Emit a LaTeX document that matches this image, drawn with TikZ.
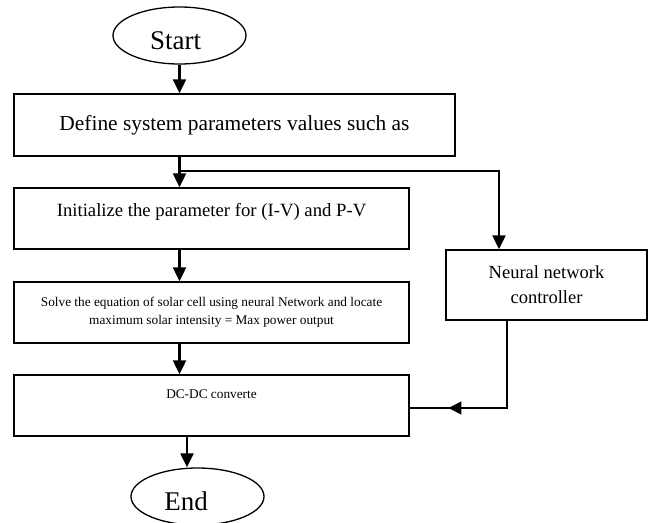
\documentclass[tikz,border=0pt]{standalone}
\usepackage{fontspec}
\setmainfont{Liberation Serif}
\usepackage{tikz}
\usetikzlibrary{shapes.geometric, arrows.meta, positioning, decorations.markings}

\begin{document}
\begin{tikzpicture}[
  x=1pt, y=-1pt,
  terminal/.style={ellipse, draw=black, line width=1.3pt, minimum width=133pt, minimum height=57pt, inner sep=0pt, font=\fontsize{27}{30}\selectfont, text height=27pt, text depth=0pt},
  stepbox/.style={rectangle, draw=black, line width=1.4pt, minimum width=395pt, minimum height=61pt, inner sep=0pt, align=center},
  arr/.style={-{Triangle[length=14pt, width=13pt]}, line width=2.2pt},
  line/.style={line width=1.5pt}
]
\useasboundingbox (0,0) rectangle (652,522);

% main column
\node[terminal] (start) at (179.5, 35.5) {Start\kern8pt};
\node[stepbox, minimum width=441pt, minimum height=62pt, font=\fontsize{21.4}{25}\selectfont] (define) at (234.5, 125) {Define system parameters values such as};
\node[stepbox, font=\fontsize{18.7}{22}\selectfont, text height=13pt, text depth=17.6pt] (init) at (211.5, 218.5) {Initialize the parameter for (I-V) and P-V};
\node[stepbox, font=\fontsize{13.3}{18}\selectfont] (solve) at (211.5, 312.5) {Solve the equation of solar cell using neural Network and locate\\maximum solar intensity = Max power output};
\node[stepbox, font=\fontsize{13.3}{16}\selectfont, text height=9pt, text depth=23.2pt] (dcdc) at (211.5, 405.5) {DC-DC converte};
\node[terminal] (end) at (197.5, 496.5) {End\kern23pt};

% side branch
\node[stepbox, minimum width=201pt, minimum height=70pt, font=\fontsize{18.5}{25}\selectfont] (nnc) at (546.5, 285) {Neural network\\controller};
\coordinate (split) at (start.south |- 0,171);

% Arrows
\draw[arr] (start.south) -- (start.south |- define.north);
\draw[arr] (start.south |- define.south) -- (start.south |- init.north);
\draw[arr] (start.south |- init.south) -- (start.south |- solve.north);
\draw[arr] (start.south |- solve.south) -- (start.south |- dcdc.north);
\draw[arr] ([xshift=-24.5pt]dcdc.south) -- ([xshift=-24.5pt]dcdc.south |- end.north);

% to / from the controller
\draw[arr] (split) -| ([xshift=-47.5pt]nnc.north);
\draw[line, postaction={decorate}, decoration={markings, mark=at position 0.79 with {\arrow{Triangle[length=13pt, width=13pt]}}}]
  ([xshift=-39.5pt]nnc.south) |- ([yshift=-2.5pt]dcdc.east);

\end{tikzpicture}
\end{document}
